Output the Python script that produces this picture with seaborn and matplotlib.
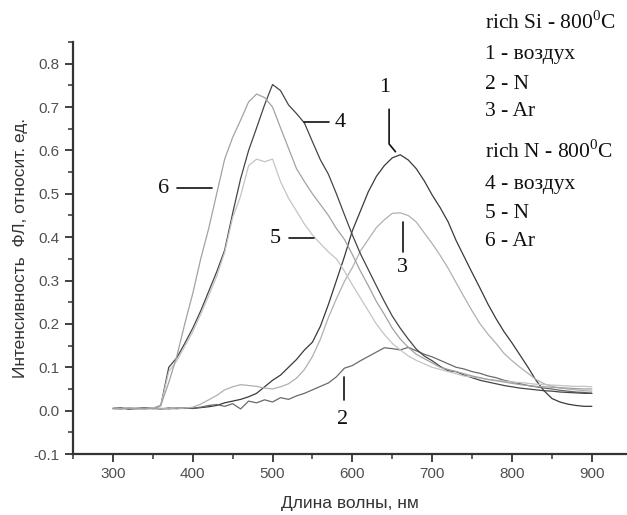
import numpy as np
import pandas as pd
import matplotlib
matplotlib.use("Agg")
import matplotlib.pyplot as plt
import seaborn as sns
from matplotlib.ticker import MultipleLocator

# wavelength grid, nm
wl = np.arange(300, 901, 10)

# rich Si - 800C
rich_si_air = [0.005, 0.006, 0.004, 0.005, 0.006, 0.005, 0.004, 0.006, 0.005, 0.006,
               0.005, 0.007, 0.009, 0.012, 0.018, 0.022, 0.026, 0.032, 0.040, 0.055,
               0.070, 0.082, 0.100, 0.118, 0.140, 0.158, 0.195, 0.245, 0.300, 0.355,
               0.415, 0.460, 0.505, 0.540, 0.565, 0.583, 0.590, 0.578, 0.558, 0.530,
               0.497, 0.468, 0.435, 0.392, 0.355, 0.318, 0.282, 0.245, 0.212, 0.182,
               0.156, 0.128, 0.100, 0.070, 0.046, 0.028, 0.020, 0.015, 0.012, 0.010,
               0.010]
rich_si_n = [0.005, 0.004, 0.006, 0.005, 0.004, 0.006, 0.005, 0.004, 0.006, 0.005,
             0.006, 0.008, 0.012, 0.014, 0.010, 0.016, 0.004, 0.022, 0.018, 0.025,
             0.020, 0.030, 0.026, 0.034, 0.040, 0.048, 0.056, 0.064, 0.078, 0.098,
             0.104, 0.115, 0.125, 0.135, 0.145, 0.143, 0.140, 0.146, 0.138, 0.130,
             0.124, 0.116, 0.108, 0.100, 0.096, 0.090, 0.086, 0.080, 0.076, 0.070,
             0.066, 0.062, 0.058, 0.055, 0.052, 0.050, 0.047, 0.045, 0.043, 0.042,
             0.040]
rich_si_ar = [0.005, 0.005, 0.006, 0.004, 0.005, 0.006, 0.005, 0.005, 0.004, 0.006,
              0.008, 0.015, 0.025, 0.035, 0.048, 0.055, 0.060, 0.058, 0.056, 0.052,
              0.050, 0.055, 0.062, 0.075, 0.095, 0.125, 0.165, 0.215, 0.258, 0.298,
              0.330, 0.368, 0.395, 0.422, 0.440, 0.455, 0.456, 0.450, 0.435, 0.410,
              0.385, 0.358, 0.328, 0.295, 0.262, 0.230, 0.200, 0.176, 0.155, 0.132,
              0.115, 0.100, 0.086, 0.072, 0.062, 0.056, 0.052, 0.050, 0.048, 0.046,
              0.045]

# rich N - 800C
rich_n_air = [0.005, 0.006, 0.004, 0.005, 0.006, 0.005, 0.012, 0.100, 0.122, 0.155,
              0.190, 0.230, 0.275, 0.320, 0.370, 0.455, 0.535, 0.600, 0.652, 0.705,
              0.752, 0.738, 0.705, 0.685, 0.663, 0.620, 0.578, 0.545, 0.500, 0.452,
              0.405, 0.362, 0.325, 0.288, 0.252, 0.218, 0.190, 0.165, 0.142, 0.126,
              0.115, 0.102, 0.092, 0.090, 0.082, 0.076, 0.070, 0.066, 0.062, 0.058,
              0.055, 0.052, 0.050, 0.048, 0.046, 0.045, 0.043, 0.042, 0.041, 0.040,
              0.040]
rich_n_n = [0.005, 0.005, 0.006, 0.004, 0.005, 0.006, 0.012, 0.090, 0.115, 0.148,
            0.182, 0.222, 0.265, 0.310, 0.365, 0.445, 0.495, 0.565, 0.580, 0.574,
            0.580, 0.528, 0.490, 0.460, 0.430, 0.405, 0.385, 0.366, 0.350, 0.322,
            0.290, 0.260, 0.230, 0.200, 0.176, 0.155, 0.140, 0.126, 0.116, 0.108,
            0.100, 0.095, 0.090, 0.085, 0.080, 0.078, 0.075, 0.072, 0.070, 0.068,
            0.066, 0.065, 0.063, 0.061, 0.060, 0.059, 0.058, 0.057, 0.056, 0.056,
            0.055]
rich_n_ar = [0.005, 0.004, 0.006, 0.005, 0.005, 0.004, 0.012, 0.065, 0.125, 0.200,
             0.270, 0.350, 0.420, 0.500, 0.580, 0.630, 0.670, 0.712, 0.730, 0.722,
             0.700, 0.652, 0.605, 0.558, 0.528, 0.500, 0.475, 0.450, 0.420, 0.395,
             0.360, 0.322, 0.288, 0.252, 0.222, 0.190, 0.165, 0.146, 0.130, 0.120,
             0.110, 0.100, 0.095, 0.090, 0.085, 0.080, 0.076, 0.072, 0.069, 0.066,
             0.063, 0.060, 0.058, 0.056, 0.055, 0.054, 0.053, 0.052, 0.051, 0.050,
             0.050]

curve_ids = ["1", "2", "3", "4", "5", "6"]
curve_values = [rich_si_air, rich_si_n, rich_si_ar, rich_n_air, rich_n_n, rich_n_ar]
curve_colors = ["#3a3a3a", "#6a6a6a", "#b0b0b0", "#454545", "#c4c4c4", "#a2a2a2"]

legend_lines = [r"rich Si - 800$^\mathrm{0}$C", "1 - воздух", "2 - N", "3 - Ar",
                r"rich N - 800$^\mathrm{0}$C", "4 - воздух", "5 - N", "6 - Ar"]

df = pd.concat(
    [pd.DataFrame({"wl": wl, "I": vals, "curve": cid}) for cid, vals in zip(curve_ids, curve_values)],
    ignore_index=True,
)

sns.set_style("ticks")
plt.rcParams["font.family"] = ["Liberation Sans", "DejaVu Sans"]
plt.rcParams["mathtext.fontset"] = "custom"
plt.rcParams["mathtext.rm"] = "Liberation Serif"

fig = plt.figure(figsize=(6.27, 5.15), dpi=100)
ax = fig.add_axes([0.1164, 0.1184, 0.8836, 0.80])

sns.lineplot(data=df, x="wl", y="I", hue="curve", palette=dict(zip(curve_ids, curve_colors)),
             linewidth=0.9, legend=False, ax=ax)

ax.set_xlim(250, 944)
ax.set_ylim(-0.1, 0.85)
ax.xaxis.set_minor_locator(MultipleLocator(50))
ax.yaxis.set_major_locator(MultipleLocator(0.1))
ax.yaxis.set_minor_locator(MultipleLocator(0.05))
ax.set_xticks(range(300, 901, 100))
ax.yaxis.set_major_formatter(matplotlib.ticker.FormatStrFormatter("%.1f"))

for side in ["top", "right"]:
    ax.spines[side].set_visible(False)
for side in ["left", "bottom"]:
    ax.spines[side].set_linewidth(1.6)
    ax.spines[side].set_color("#333333")
ax.tick_params(which="major", length=6, width=1.3, color="#333333", labelsize=11, labelcolor="#505050")
ax.tick_params(which="minor", length=3.5, width=1.1, color="#333333")

ax.set_xlabel("Длина волны, нм", fontsize=12.5, color="#333333", labelpad=11)
ax.set_ylabel("Интенсивность  ФЛ, относит. ед.", fontsize=12.5, color="#333333", labelpad=4)

# curve labels with leader lines
serif = ["Liberation Serif", "DejaVu Serif"]
lab_kw = dict(family=serif, fontsize=16, color="#111111", ha="center", va="center")
ax.text(640, 0.745, "1", **lab_kw)
ax.plot([646, 646, 654], [0.695, 0.615, 0.597], color="#111111", lw=1.2)
ax.text(588, -0.02, "2", **lab_kw)
ax.plot([589, 589], [0.078, 0.025], color="#111111", lw=1.2)
ax.text(663, 0.33, "3", **lab_kw)
ax.plot([663, 663], [0.435, 0.365], color="#111111", lw=1.2)
ax.text(585, 0.665, "4", **lab_kw)
ax.plot([540, 571], [0.665, 0.665], color="#111111", lw=1.2)
ax.text(503, 0.398, "5", **lab_kw)
ax.plot([521, 552], [0.398, 0.398], color="#111111", lw=1.2)
ax.text(364, 0.513, "6", **lab_kw)
ax.plot([380, 424], [0.513, 0.513], color="#111111", lw=1.2)

# text legend at upper right
legend_y = [22, 54, 84, 112, 151, 184, 213, 242]
for txt, ypx in zip(legend_lines, legend_y):
    fig.text(485 / 627, 1 - ypx / 515, txt, family=serif, fontsize=15.5,
             color="#111111", ha="left", va="center")

fig.savefig("out.png", dpi=100)
